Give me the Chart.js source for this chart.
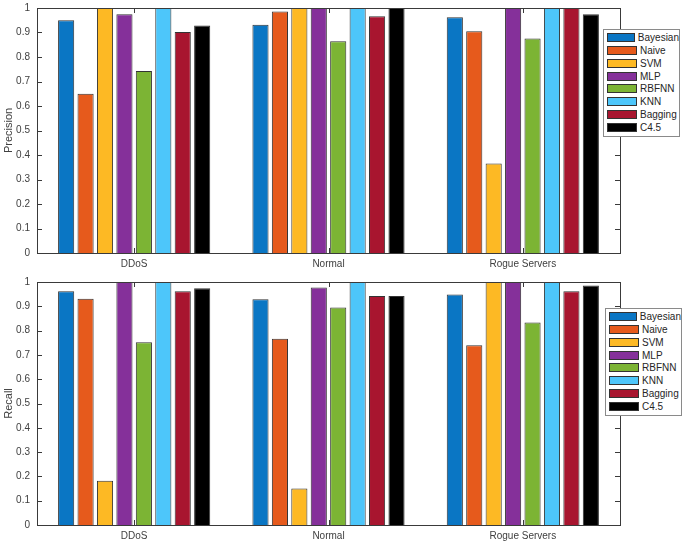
<!DOCTYPE html>
<html>
<head>
<meta charset="utf-8">
<script src="https://cdn.jsdelivr.net/npm/chart.js@4"></script>
<style>
    body { margin: 0; background: #fff; }
    #wrap { position: relative; width: 685px; height: 546px; overflow: hidden; font-family: "Liberation Sans", Arial, sans-serif; }
    .plot { position: absolute; left: 0; }
    .legend {
        position: absolute;
        width: 77px;
        background: #fff;
        border: 1px solid #8a8a8a;
        padding: 1px 0 2px 0;
        box-sizing: border-box;
    }
    .legend-item { height: 12.86px; display: flex; align-items: center; font-size: 10px; color: #262626; }
    .legend-item .swatch { width: 30px; height: 9px; margin-left: 3px; margin-right: 3px; border: 1px solid #333; box-sizing: border-box; }
</style>
</head>
<body>
<div id="wrap">
    <canvas id="precisionChart" class="plot" style="top:0px" width="685" height="274"></canvas>
    <canvas id="recallChart" class="plot" style="top:274px" width="685" height="272"></canvas>
    <div id="legend-top" class="legend" style="left:603px; top:29px;"></div>
    <div id="legend-bottom" class="legend" style="left:605px; top:308px;"></div>
</div>

<script>
// Categories and classifiers
const categories = ['DDoS', 'Normal', 'Rogue Servers'];
const classifiers = ['Bayesian', 'Naive', 'SVM', 'MLP', 'RBFNN', 'KNN', 'Bagging', 'C4.5'];
const barColors = ['#0a76c4', '#e65a1c', '#fdb924', '#85309a', '#7cb434', '#4dc6fa', '#a8152f', '#000000'];

// Precision values per classifier: [DDoS, Normal, Rogue Servers]
const precisionBayesian = [0.95, 0.932, 0.962];
const precisionNaive    = [0.65, 0.986, 0.905];
const precisionSVM      = [1.0, 1.0, 0.365];
const precisionMLP      = [0.974, 1.0, 1.0];
const precisionRBFNN    = [0.743, 0.864, 0.876];
const precisionKNN      = [1.0, 1.0, 1.0];
const precisionBagging  = [0.902, 0.966, 1.0];
const precisionC45      = [0.929, 1.0, 0.974];

// Recall values per classifier: [DDoS, Normal, Rogue Servers]
const recallBayesian = [0.962, 0.929, 0.949];
const recallNaive    = [0.931, 0.766, 0.74];
const recallSVM      = [0.182, 0.15, 1.0];
const recallMLP      = [1.0, 0.977, 1.0];
const recallRBFNN    = [0.752, 0.895, 0.833];
const recallKNN      = [1.0, 1.0, 1.0];
const recallBagging  = [0.962, 0.942, 0.962];
const recallC45      = [0.974, 0.942, 0.986];

// Y axis ticks and their labels
const yTicks = [0, 0.1, 0.2, 0.3, 0.4, 0.5, 0.6, 0.7, 0.8, 0.9, 1];
const yTickLabels = ['0', '0.1', '0.2', '0.3', '0.4', '0.5', '0.6', '0.7', '0.8', '0.9', '1'];

const precisionSeries = [precisionBayesian, precisionNaive, precisionSVM, precisionMLP,
    precisionRBFNN, precisionKNN, precisionBagging, precisionC45];
const recallSeries = [recallBayesian, recallNaive, recallSVM, recallMLP,
    recallRBFNN, recallKNN, recallBagging, recallC45];

const axisColor = '#3a3a3a';
const textColor = '#404040';

// MATLAB-like box with inward ticks
const boxPlugin = {
    id: 'matlabBox',
    afterDraw(chart) {
        const ctx = chart.ctx;
        const a = chart.chartArea;
        const yScale = chart.scales.y;
        const xScale = chart.scales.x;
        const len = 5;
        ctx.save();
        ctx.strokeStyle = axisColor;
        ctx.lineWidth = 1;
        ctx.strokeRect(Math.round(a.left) + 0.5, Math.round(a.top) + 0.5,
            Math.round(a.right - a.left), Math.round(a.bottom - a.top));
        ctx.beginPath();
        yTicks.forEach(v => {
            const y = Math.round(yScale.getPixelForValue(v)) + 0.5;
            ctx.moveTo(a.left, y); ctx.lineTo(a.left + len, y);
            ctx.moveTo(a.right, y); ctx.lineTo(a.right - len, y);
        });
        categories.forEach((c, i) => {
            const x = Math.round(xScale.getPixelForValue(i)) + 0.5;
            ctx.moveTo(x, a.top); ctx.lineTo(x, a.top + len);
            ctx.moveTo(x, a.bottom); ctx.lineTo(x, a.bottom - len);
        });
        ctx.stroke();
        ctx.restore();
    }
};

function buildChart(canvasId, series, yTitle) {
    const ctx = document.getElementById(canvasId);
    return new Chart(ctx, {
        type: 'bar',
        data: {
            labels: categories,
            datasets: classifiers.map((name, i) => ({
                label: name,
                data: series[i],
                backgroundColor: barColors[i],
                borderColor: '#333333',
                borderWidth: 1,
                categoryPercentage: 0.8,
                barPercentage: 0.83
            }))
        },
        options: {
            responsive: false,
            animation: false,
            layout: { padding: { top: 8, right: 65, left: 0, bottom: 0 } },
            plugins: {
                legend: { display: false },
                tooltip: { enabled: false }
            },
            scales: {
                x: {
                    grid: { display: false, drawTicks: false },
                    border: { display: false },
                    ticks: {
                        color: textColor,
                        padding: 5,
                        font: { family: 'Liberation Sans', size: 10 }
                    },
                    afterFit(scale) { scale.height = 21; }
                },
                y: {
                    min: 0,
                    max: 1,
                    grid: { display: false, drawTicks: false },
                    border: { display: false },
                    afterBuildTicks(scale) { scale.ticks = yTicks.map(v => ({ value: v })); },
                    ticks: {
                        color: textColor,
                        padding: 7,
                        font: { family: 'Liberation Sans', size: 10 },
                        callback: (value, index) => yTickLabels[index]
                    },
                    title: {
                        display: true,
                        text: yTitle,
                        color: textColor,
                        padding: { top: 2, bottom: 0 },
                        font: { family: 'Liberation Sans', size: 11 }
                    },
                    afterFit(scale) {
                        scale.width = 37;
                        scale.paddingTop = 0;
                        scale.paddingBottom = 0;
                    }
                }
            }
        },
        plugins: [boxPlugin]
    });
}

function buildLegend(id) {
    const box = document.getElementById(id);
    classifiers.forEach((name, i) => {
        const row = document.createElement('div');
        row.className = 'legend-item';
        row.innerHTML = `<span class="swatch" style="background:${barColors[i]}"></span><span>${name}</span>`;
        box.appendChild(row);
    });
}

buildChart('precisionChart', precisionSeries, 'Precision');
buildChart('recallChart', recallSeries, 'Recall');
buildLegend('legend-top');
buildLegend('legend-bottom');
</script>
</body>
</html>
